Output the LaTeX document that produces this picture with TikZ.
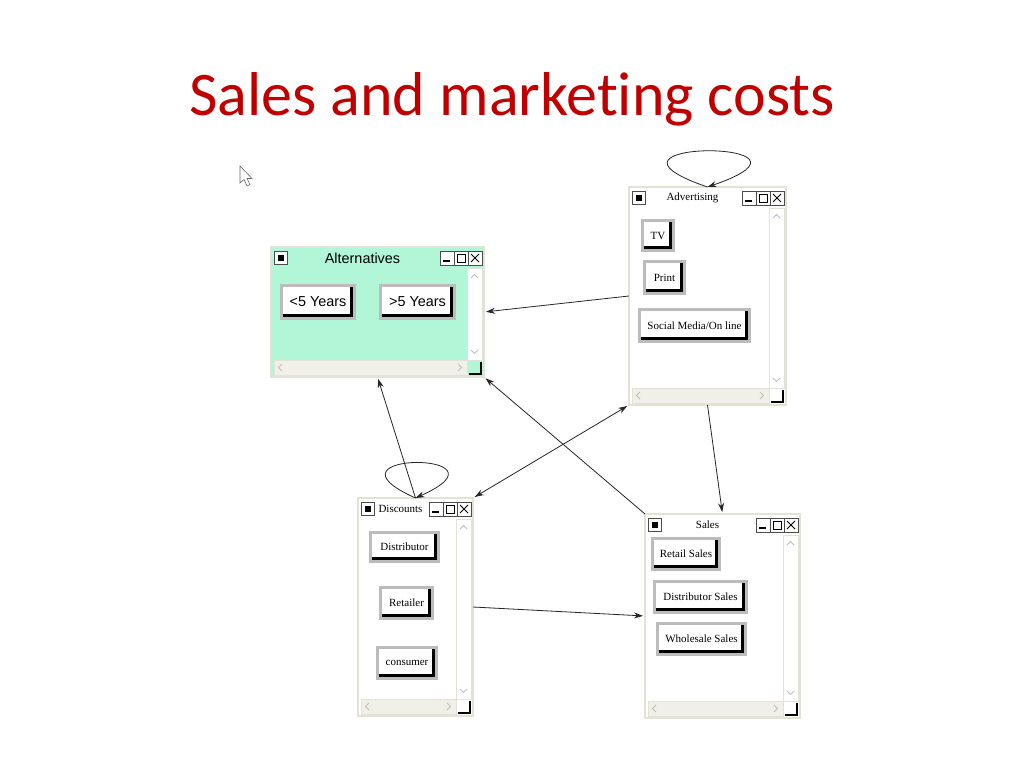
\documentclass[tikz,border=0pt]{standalone}
\usepackage{fontspec}
\setmainfont{Liberation Serif}
\newfontfamily\slidefont[Ligatures=NoCommon]{Carlito}
\newfontfamily\arialfont{Liberation Sans}
\usepackage{tikz}
\usetikzlibrary{arrows.meta,calc}
\definecolor{titlered}{RGB}{192,0,0}
\definecolor{mint}{RGB}{178,246,216}
\definecolor{winframe}{RGB}{226,226,214}
\definecolor{scroll}{RGB}{240,240,232}
\definecolor{btnedge}{RGB}{188,188,188}

\tikzset{
  win/.style={draw=winframe, line width=2pt, fill=white, inner sep=0pt, outer sep=0pt},
  wintitle/.style={inner sep=0pt},
  btn/.style={draw=btnedge, line width=3pt, fill=black, inner sep=0pt, outer sep=0pt,
    font=\fontsize{11}{13}\selectfont,
    path picture={\fill[white] (path picture bounding box.north west)
      rectangle ([xshift=-4.5pt,yshift=4.5pt]path picture bounding box.south east);}},
  tbtn/.style={draw=black!70, fill=white, line width=0.7pt},
  sbar/.style={draw=winframe, fill=scroll, line width=0.6pt},
  glyph/.style={draw=black!25, line width=0.8pt},
  arr/.style={-{Stealth[length=9pt,width=6pt]}, line width=0.8pt, black!85, shorten >=2pt},
  arrboth/.style={{Stealth[length=9pt,width=6pt]}-{Stealth[length=9pt,width=6pt]},
    line width=0.8pt, black!85, shorten >=2pt, shorten <=2pt}
}

% title bar, scroll bars and corner of a window node
\newcommand\winchrome[4]{%
  \node[wintitle, font=#3] (#1-title) at ($(#1.north)+(-15,11)$) {#2};
  \draw[tbtn] ($(#1.north west)+(3,4)$) rectangle +(13,13);
  \fill ($(#1.north west)+(6.5,7.5)$) rectangle +(6,6);
  \foreach \dx in {44,30,16}
    \draw[tbtn] ($(#1.north east)+(-\dx,4)$) rectangle +(14,14);
  \fill ($(#1.north east)+(-41,13)$) rectangle +(7,2);
  \draw[line width=0.9pt] ($(#1.north east)+(-27,7)$) rectangle +(8,8);
  \draw[line width=1pt] ($(#1.north east)+(-13,7)$) -- +(8,8)
    ($(#1.north east)+(-13,15)$) -- +(8,-8);
  \draw[sbar, fill=white] ($(#1.north east)+(-17,21)$) rectangle ($(#1.south east)+(-2,-17)$);
  \draw[sbar] ($(#1.south west)+(3,-17)$) rectangle ($(#1.south east)+(-17,-2)$);
  \draw[glyph] ($(#1.north east)+(-13,31)$) -- ++(3.5,-3.5) -- ++(3.5,3.5);
  \draw[glyph] ($(#1.south east)+(-13,-27)$) -- ++(3.5,3.5) -- ++(3.5,-3.5);
  \draw[glyph] ($(#1.south west)+(11,-13)$) -- ++(-3.5,3.5) -- ++(3.5,3.5);
  \draw[glyph] ($(#1.south east)+(-26,-13)$) -- ++(3.5,3.5) -- ++(-3.5,3.5);
  \fill[#4] ($(#1.south east)+(-15,-15)$) rectangle +(12,12);
  \draw[line width=1.2pt] ($(#1.south east)+(-15,-3)$) -- +(12,0) -- +(12,-12);
}

\begin{document}
\begin{tikzpicture}[x=1pt,y=-1pt]
\useasboundingbox (0,0) rectangle (1024,768);
\fill[white] (0,0) rectangle (1024,768);

\node[font=\slidefont\fontsize{62}{62}\selectfont, text=titlered, anchor=base] (heading)
  at (512,115) {Sales and marketing costs};

% mouse pointer
\draw[fill=white, draw=black!60, line width=0.6pt] (240,166) -- (240,183) -- (244,179.5)
  -- (247,186) -- (250,184.5) -- (247,178.5) -- (252,178.5) -- cycle;

% windows
\node[win, minimum width=157pt, minimum height=218pt] (adv) at (707.5,296) {};
\winchrome{adv}{Advertising}{\fontsize{11}{13}\selectfont}{white}
\node[win, fill=mint, minimum width=213pt, minimum height=130pt] (alt) at (377.5,312) {};
\winchrome{alt}{Alternatives}{\arialfont\fontsize{14.4}{16}\selectfont}{mint}
\node[win, minimum width=115pt, minimum height=218pt] (disc) at (415.5,607) {};
\winchrome{disc}{Discounts}{\fontsize{11}{13}\selectfont}{white}
\node[win, minimum width=155pt, minimum height=204pt] (sales) at (722.5,616) {};
\winchrome{sales}{Sales}{\fontsize{11}{13}\selectfont}{white}

% buttons
\node[btn, minimum width=31pt, minimum height=30pt] (tv) at (658,235.5) {TV};
\node[btn, minimum width=40pt, minimum height=32pt] (print) at (664.5,277.5) {Print};
\node[btn, minimum width=110pt, minimum height=32pt] (social) at (694.5,325.5) {Social Media/On line};
\node[btn, minimum width=73pt, minimum height=33pt, font=\arialfont\fontsize{14.4}{16}\selectfont] (under5) at (318,302) {<5 Years};
\node[btn, minimum width=74pt, minimum height=33pt, font=\arialfont\fontsize{14.4}{16}\selectfont] (over5) at (417.5,302) {>5 Years};
\node[btn, minimum width=68pt, minimum height=29pt] (distributor) at (404.5,547) {Distributor};
\node[btn, minimum width=52pt, minimum height=31pt] (retailer) at (406.5,603) {Retailer};
\node[btn, minimum width=59pt, minimum height=31pt] (consumer) at (407,663) {consumer};
\node[btn, minimum width=67pt, minimum height=31pt] (retailsales) at (686,554) {Retail Sales};
\node[btn, minimum width=92pt, minimum height=31pt] (distsales) at (700.5,597) {Distributor Sales};
\node[btn, minimum width=88pt, minimum height=31pt] (wholesale) at (701.5,639) {Wholesale Sales};

% connectors
\draw[arr, shorten >=0pt] (adv.north) .. controls +(-140,-48) and +(140,-48) .. (adv.north);
\draw[arr, shorten >=0pt] (disc.north) .. controls +(-105,-47) and +(105,-47) .. (disc.north);
\draw[arr] (adv.west) -- (alt.east);
\draw[arr] (disc.north) -- (alt.south);
\draw[arrboth] (adv.south west) -- (disc.north east);
\draw[arr] (sales.north west) -- (alt.south east);
\draw[arr] (adv.south) -- (sales.north);
\draw[arr] (disc.east) -- (sales.west);
\end{tikzpicture}
\end{document}
